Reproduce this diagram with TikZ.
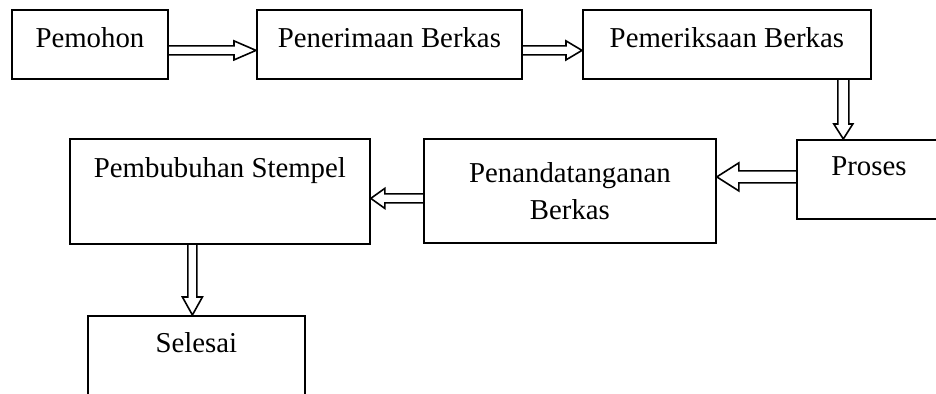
\documentclass[tikz,border=0pt]{standalone}
\usepackage{fontspec}
\setmainfont{Liberation Serif}
\usepackage{tikz}
\usetikzlibrary{calc}

\tikzset{
  box/.style={draw, line width=0.9pt, inner sep=0pt, anchor=north west, align=center},
  hollow/.style n args={3}{line width=0.8pt, to path={
    let \p1=(\tikztostart), \p2=(\tikztotarget),
        \p3=($(\p2)!#3!(\p1)$) in
    ($(\p1)!#1!90:(\p2)$) -- ($(\p3)!#1!90:(\p2)$) -- ($(\p3)!#2!90:(\p2)$)
    -- (\p2) -- ($(\p3)!#2!-90:(\p2)$) -- ($(\p3)!#1!-90:(\p2)$)
    -- ($(\p1)!#1!-90:(\p2)$)
  }}
}

\begin{document}
\begin{tikzpicture}[x=0.5pt, y=-0.5pt, font=\fontsize{14.4}{18.5}\selectfont]

      \clip (0,0) rectangle (936,394);
      \useasboundingbox (0,0) rectangle (936,394);

      % baris atas
      \node[box, minimum width=78pt, minimum height=34.5pt, text height=19pt, text depth=15.5pt]
        (pemohon) at (11,9) {Pemohon};
      \node[box, minimum width=132.5pt, minimum height=34.5pt, text height=19pt, text depth=15.5pt]
        (penerimaan) at (256,9) {Penerimaan Berkas};
      \node[box, minimum width=144pt, minimum height=34.5pt, text height=19pt, text depth=15.5pt]
        (pemeriksaan) at (582,9) {Pemeriksaan Berkas};

      % baris tengah
      \node[box, minimum width=72pt, minimum height=39.5pt, text height=18pt, text depth=21.5pt]
        (proses) at (796,139) {Proses};
      \node[box, minimum width=146pt, minimum height=52pt]
        (penandatanganan) at (423,138) {Penandatanganan\\Berkas};
      \node[box, minimum width=150pt, minimum height=52.5pt, text height=19.5pt, text depth=33pt]
        (pembubuhan) at (69,138) {Pembubuhan Stempel};

      % baris bawah
      \node[box, minimum width=108.5pt, minimum height=50pt, text height=18.5pt, text depth=31.5pt]
        (selesai) at (87,315) {Selesai};

      % titik awal panah
      \coordinate (a1) at ([yshift=-3pt]pemohon.east);
      \coordinate (a2) at ([yshift=-3pt]penerimaan.east);
      \coordinate (a3) at ([xshift=-14.25pt]pemeriksaan.south east);
      \coordinate (a4) at ([yshift=1.25pt]proses.west);
      \coordinate (a5) at ([yshift=-3.75pt]penandatanganan.west);
      \coordinate (a6) at ([xshift=-13.75pt]pembubuhan.south);

      % panah
      \draw[hollow={2.25pt}{4.75pt}{11pt}] (a1) to (a1 -| penerimaan.west);
      \draw[hollow={2.25pt}{4.75pt}{8pt}] (a2) to (a2 -| pemeriksaan.west);
      \draw[hollow={2.75pt}{4.75pt}{7.5pt}] (a3) to (a3 |- proses.north);
      \draw[hollow={3pt}{7pt}{11pt}] (a4) to (a4 -| penandatanganan.east);
      \draw[hollow={2.25pt}{5pt}{7pt}] (a5) to (a5 -| pembubuhan.east);
      \draw[hollow={2.25pt}{5pt}{9pt}] (a6) to (a6 |- selesai.north);

    \end{tikzpicture}
\end{document}
